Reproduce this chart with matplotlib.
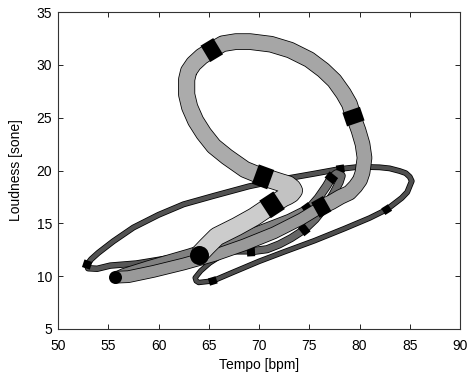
import numpy as np
import matplotlib
matplotlib.use("Agg")
import matplotlib.pyplot as plt

plt.rcParams["font.family"] = ["Liberation Sans", "DejaVu Sans"]

# worm trajectory, oldest -> newest (tempo in bpm, loudness in sone)
tempo = [
    66.5, 65.1, 64.2, 63.65, 63.75, 64.0, 65.4, 67.5, 70.0, 72.5,
    75.5, 78.5, 81.0, 82.7, 84.2, 84.75, 85.2, 85.0, 84.6, 84.0,
    83.0, 82.0, 80.0, 78.1, 75.5, 72.5, 69.0, 65.5, 62.5, 60.0,
    57.5, 55.5, 54.0, 53.3, 52.9, 53.0, 53.9, 55.2, 57.8, 61.0,
    64.0, 66.7, 69.2, 70.8, 72.0, 73.2, 74.5, 75.6, 76.6, 77.4,
    78.0, 78.2, 77.7, 77.2, 76.7, 75.9, 74.9, 73.0, 70.0, 67.0,
    63.0, 59.0, 56.5, 55.7, 57.0, 59.5, 62.5, 65.5, 68.5, 71.5,
    74.2, 76.2, 77.2, 78.1, 79.0, 79.6, 80.05, 80.3, 80.5, 80.3,
    79.9, 79.4, 79.0, 78.4, 77.5, 76.4, 75.0, 73.1, 71.2, 69.1,
    67.7, 66.4, 65.3, 64.3, 63.5, 63.0, 62.8, 62.8, 63.1, 63.7,
    64.5, 65.5, 66.8, 68.6, 70.4, 72.2, 72.9, 73.3, 73.45, 73.2,
    72.85, 72.4, 71.3, 69.5, 67.8, 65.8, 64.8, 64.0,
]
loudness = [
    12.1, 11.25, 10.5, 9.85, 9.55, 9.4, 9.55, 10.4, 11.4, 12.3,
    13.35, 14.5, 15.5, 16.3, 17.4, 17.95, 19.0, 19.4, 19.75, 19.95,
    20.2, 20.3, 20.35, 20.15, 19.7, 19.2, 18.5, 17.6, 16.8, 15.8,
    14.6, 13.3, 12.2, 11.6, 11.1, 10.75, 10.7, 11.0, 11.2, 11.7,
    12.2, 12.35, 12.35, 12.55, 13.0, 13.6, 14.4, 15.4, 16.6, 17.8,
    18.9, 19.5, 19.7, 19.3, 18.5, 17.4, 16.3, 15.4, 14.3, 13.3,
    12.1, 11.0, 10.25, 9.9, 9.95, 10.45, 11.15, 11.95, 12.95, 14.1,
    15.4, 16.55, 17.0, 17.5, 17.9, 18.5, 19.1, 19.8, 21.2, 22.5,
    23.8, 25.1, 26.3, 27.3, 28.5, 29.5, 30.5, 31.4, 31.95, 32.2,
    32.2, 32.0, 31.4, 30.8, 30.1, 29.4, 28.6, 27.2, 26.0, 24.7,
    23.5, 22.3, 21.3, 20.1, 19.4, 18.85, 18.65, 18.35, 18.1, 17.8,
    17.6, 17.4, 16.75, 15.6, 14.7, 13.75, 12.8, 12.0,
]
# points where a new bar starts (black bands) and the turning point
bar_idx = [6, 13, 23, 34, 42, 46, 53, 56, 63, 71, 81, 92, 104, 112]
turn_idx = 63

xticks = [50, 55, 60, 65, 70, 75, 80, 85, 90]
yticks = [5, 10, 15, 20, 25, 30, 35]

# tube look per bar segment (older = thinner and darker)
seg_width = [3.8, 4.0, 4.2, 4.4, 4.8, 6.5, 7.0, 7.5, 9.0, 11.0, 14.0, 15.0, 15.5, 17.0, 17.5]
seg_gray = [0.30, 0.30, 0.31, 0.32, 0.34, 0.40, 0.42, 0.45, 0.50, 0.60, 0.63, 0.65, 0.67, 0.76, 0.80]

PX = 0.72  # points per pixel at dpi 100

fig = plt.figure(figsize=(4.73, 3.76), dpi=100)
ax = fig.add_axes([58 / 473, 47 / 376, 402 / 473, 317 / 376])
ax.set_xlim(50, 90)
ax.set_ylim(5, 35)

xy = np.column_stack([tempo, loudness])
pix = ax.transData.transform(xy)
inv = ax.transData.inverted()

bounds = [0] + bar_idx + [len(tempo) - 1]


def draw_band(i, width):
    if i == turn_idx:
        ax.plot(tempo[i], loudness[i], "o", color="black", ms=(width + 2) * PX, mew=0, zorder=3)
        return
    d = pix[i + 1] - pix[i - 1]
    d = d / np.hypot(*d)
    half = max(4.0, 0.48 * width)
    ends = inv.transform([pix[i] - d * half, pix[i] + d * half])
    ax.plot(ends[:, 0], ends[:, 1], color="black", lw=(width + 3.5) * PX,
            solid_capstyle="butt", zorder=3)


for k in range(len(bounds) - 1):
    a, b = bounds[k], bounds[k + 1]
    w = seg_width[k]
    g = seg_gray[k]
    ax.plot(tempo[a:b + 1], loudness[a:b + 1], color="black", lw=(w + 1.6) * PX,
            solid_capstyle="butt", solid_joinstyle="round", zorder=3)
    ax.plot(tempo[a:b + 1], loudness[a:b + 1], color=(g, g, g), lw=w * PX,
            solid_capstyle="butt", solid_joinstyle="round", zorder=3)
    if k >= 1:
        draw_band(a, max(seg_width[k - 1], w))

# current position of the worm
ax.plot(tempo[-1], loudness[-1], "o", color="black", ms=19 * PX, mew=0, zorder=3)

ax.set_xticks(xticks)
ax.set_yticks(yticks)
ax.tick_params(direction="in", top=True, right=True, length=3.5, width=0.6,
               labelsize=10, colors="black")
ax.tick_params(axis="x", pad=7)
ax.tick_params(axis="y", pad=4.3)
for s in ax.spines.values():
    s.set_linewidth(0.8)
    s.set_color("#333333")
ax.set_xlabel("Tempo [bpm]", fontsize=10, labelpad=4)
ax.set_ylabel("Loudness [sone]", fontsize=10, labelpad=10)

fig.savefig("out.png", dpi=100)
